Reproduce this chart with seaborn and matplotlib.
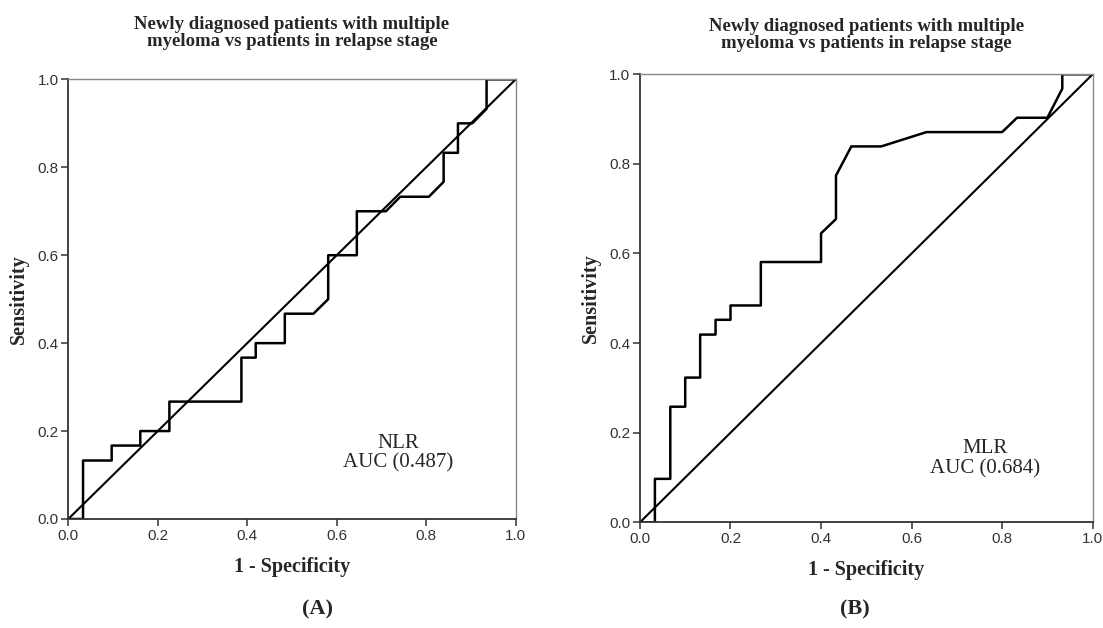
import matplotlib
matplotlib.use("Agg")
import matplotlib.pyplot as plt
import pandas as pd
import seaborn as sns

# ROC curve points (1 - specificity, sensitivity)
nlr_fpr = [0, 0.033, 0.033, 0.097, 0.097, 0.161, 0.161, 0.226, 0.226, 0.387, 0.387,
           0.419, 0.419, 0.484, 0.484, 0.548, 0.581, 0.581, 0.645, 0.645, 0.71, 0.742,
           0.806, 0.839, 0.839, 0.871, 0.871, 0.903, 0.935, 0.935, 1.0]
nlr_tpr = [0, 0, 0.133, 0.133, 0.167, 0.167, 0.2, 0.2, 0.267, 0.267, 0.367,
           0.367, 0.4, 0.4, 0.467, 0.467, 0.5, 0.6, 0.6, 0.7, 0.7, 0.733,
           0.733, 0.767, 0.833, 0.833, 0.9, 0.9, 0.933, 1.0, 1.0]

mlr_fpr = [0, 0.033, 0.033, 0.067, 0.067, 0.1, 0.1, 0.133, 0.133, 0.167, 0.167,
           0.2, 0.2, 0.267, 0.267, 0.4, 0.4, 0.433, 0.433, 0.467, 0.533, 0.633,
           0.8, 0.833, 0.9, 0.933, 0.933, 1.0]
mlr_tpr = [0, 0, 0.097, 0.097, 0.258, 0.258, 0.323, 0.323, 0.419, 0.419, 0.452,
           0.452, 0.484, 0.484, 0.581, 0.581, 0.645, 0.677, 0.774, 0.839, 0.839, 0.871,
           0.871, 0.903, 0.903, 0.968, 1.0, 1.0]

title = "Newly diagnosed patients with multiple\nmyeloma vs patients in relapse stage"
panels = [
    ("NLR", "0.487", nlr_fpr, nlr_tpr, "(A)", (0.737, 0.15), 0.2883, 33),
    ("MLR", "0.684", mlr_fpr, mlr_tpr, "(B)", (0.762, 0.142), 0.775, 35),
]
ticks = [0.0, 0.2, 0.4, 0.6, 0.8, 1.0]

sns.set_theme(style="ticks")
plt.rcParams["font.family"] = ["Liberation Serif", "DejaVu Serif"]

fig = plt.figure(figsize=(11.03, 6.28), dpi=100)
boxes = [[0.0619, 0.1736, 0.4056, 0.700], [0.5802, 0.1683, 0.4104, 0.7134]]

for box, (name, auc, fpr, tpr, tag, pos, tag_x, title_y) in zip(boxes, panels):
    ax = fig.add_axes(box)
    df = pd.DataFrame({"fpr": fpr, "tpr": tpr})
    sns.lineplot(data=df, x="fpr", y="tpr", sort=False, estimator=None,
                 color="black", lw=1.8, ax=ax)
    sns.lineplot(x=[0, 1], y=[0, 1], color="black", lw=1.5, ax=ax)
    ax.set_xlim(0, 1)
    ax.set_ylim(0, 1)
    ax.set_xticks(ticks)
    ax.set_yticks(ticks)
    ax.set_xticklabels([f"{t:.1f}" for t in ticks], family="Liberation Sans",
                       fontsize=11, color="#333333")
    ax.set_yticklabels([f"{t:.1f}" for t in ticks], family="Liberation Sans",
                       fontsize=11, color="#333333")
    ax.tick_params(length=5, width=1.1, color="#333333", pad=2)
    for side in ["left", "bottom"]:
        ax.spines[side].set_color("#333333")
        ax.spines[side].set_linewidth(1.3)
    for side in ["top", "right"]:
        ax.spines[side].set_visible(True)
        ax.spines[side].set_color("#888888")
        ax.spines[side].set_linewidth(1.0)
    ax.set_xlabel("1 - Specificity", fontsize=14.5, fontweight="bold", labelpad=10)
    ax.set_ylabel("Sensitivity", fontsize=14.5, fontweight="bold", labelpad=6)
    # two-line title placed above each panel
    cx = box[0] + box[2] / 2
    fig.text(cx, 1 - title_y / 628, title, ha="center", va="center", fontsize=13.5,
             fontweight="bold", linespacing=1.0)
    ax.text(pos[0], pos[1], f"{name}\nAUC ({auc})", ha="center", va="center",
            fontsize=15, linespacing=1.05)
    fig.text(tag_x, 1 - 609 / 628, tag, ha="center", va="center",
             fontsize=16, fontweight="bold")

fig.savefig("out.png", dpi=100)
